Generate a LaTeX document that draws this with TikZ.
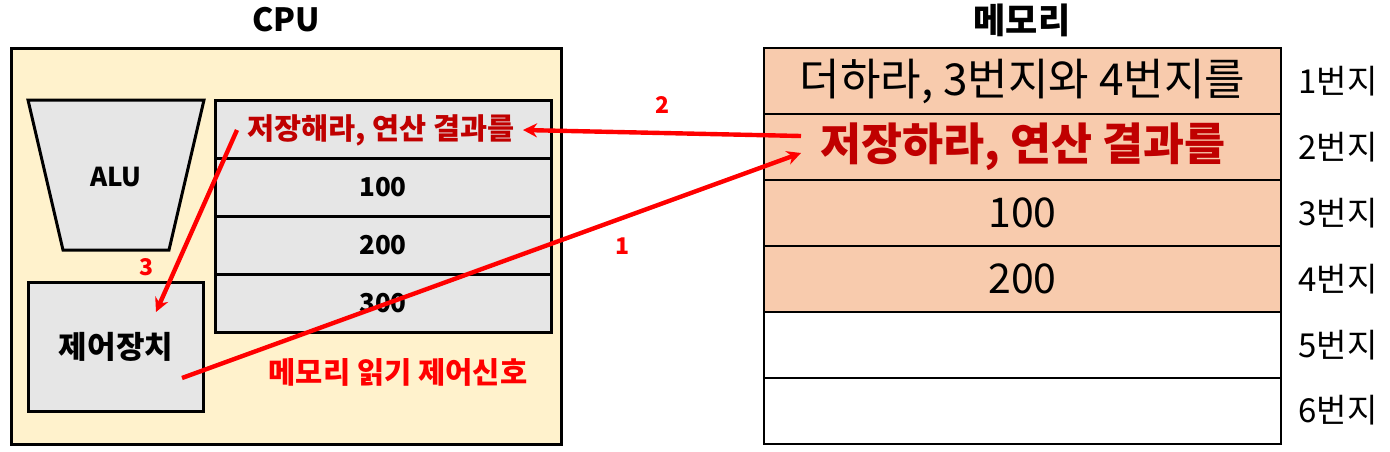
\documentclass[tikz,border=0pt]{standalone}
\usepackage{fontspec}
\setmainfont{Noto Sans CJK KR}
\usetikzlibrary{arrows.meta}
\definecolor{cpufill}{HTML}{FFF2CC}
\definecolor{regfill}{HTML}{E6E6E6}
\definecolor{memfill}{HTML}{F8CBAD}
\definecolor{darkred}{HTML}{C00000}
\definecolor{arrred}{HTML}{FF0000}
\tikzset{
  title/.style={font=\fontsize{16}{19}\selectfont\bfseries},
  cpubox/.style={draw=black,line width=1.5pt,fill=cpufill,minimum width=275pt,minimum height=198pt,inner sep=0pt},
  regbox/.style={draw=black,line width=1.5pt,fill=regfill,minimum width=168pt,minimum height=29pt,inner sep=0pt,font=\fontsize{13}{15}\selectfont\bfseries},
  ctrlbox/.style={draw=black,line width=1.5pt,fill=regfill,minimum width=87.5pt,minimum height=64.25pt,inner sep=0pt,font=\fontsize{15.5}{18}\selectfont\bfseries},
  membox/.style={draw=black,line width=1pt,minimum width=258.5pt,minimum height=33pt,inner sep=0pt},
  memtxt/.style={font=\fontsize{20.5}{24}\selectfont},
  addr/.style={font=\fontsize{16.5}{19}\selectfont},
  redarrow/.style={draw=arrred,line width=2.2pt,-{Stealth[length=7pt,width=7pt]}},
  numlbl/.style={text=arrred,font=\fontsize{11.5}{14}\selectfont\bfseries},
}
\begin{document}
\begin{tikzpicture}[x=0.5pt,y=-0.5pt]
\useasboundingbox (0,0) rectangle (1390,451);
% CPU
\node[title] (cputitle) at (286,20) {CPU};
\node[cpubox] (cpu) at (286,246) {};
\draw[line width=1.5pt,fill=regfill] (28,100) -- (204,100) -- (169,250) -- (63,250) -- cycle;
\node[font=\fontsize{13}{15}\selectfont\bfseries] (alu) at (116,177) {ALU};
\node[regbox] (r1) at (383,129.5) {};
\node[regbox] (r2) at (383,187.5) {100};
\node[regbox] (r3) at (383,245) {200};
\node[regbox] (r4) at (383,303.5) {300};
\node[text=darkred,font=\fontsize{14.7}{17}\selectfont\bfseries] (r1t) at (381,130) {저장해라, 연산 결과를};
\node[ctrlbox] (ctrl) at (116,347) {제어장치};
\node[text=arrred,font=\fontsize{14.8}{17}\selectfont\bfseries] (sig) at (398,372) {메모리 읽기 제어신호};
% Memory
\node[title,font=\fontsize{17.5}{20}\selectfont\bfseries] (memtitle) at (1022,20) {메모리};
\node[membox,fill=memfill,font=\fontsize{22}{26}\selectfont] (m1) at (1022.5,81) {더하라, 3번지와 4번지를};
\node[membox,fill=memfill] (m2) at (1022.5,147) {};
\node[text=darkred,font=\fontsize{22.3}{26}\selectfont\bfseries] (m2t) at (1023,147) {저장하라, 연산 결과를};
\node[membox,fill=memfill,memtxt] (m3) at (1022.5,213) {100};
\node[membox,fill=memfill,memtxt] (m4) at (1022.5,279) {200};
\node[membox,fill=white] (m5) at (1022.5,345) {};
\node[membox,fill=white] (m6) at (1022.5,410.5) {};
\node[addr] (a1) at (1338,81) {1번지};
\node[addr] (a2) at (1338,147) {2번지};
\node[addr] (a3) at (1338,213) {3번지};
\node[addr] (a4) at (1338,279) {4번지};
\node[addr] (a5) at (1338,345) {5번지};
\node[addr] (a6) at (1338,410.5) {6번지};
% arrows
\coordinate (s1) at (182,378);
\coordinate (e1) at (801,153);
\coordinate (s2) at (801,136);
\coordinate (e2) at (523,130);
\coordinate (s3) at (237,130);
\coordinate (e3) at (156,312);
\draw[redarrow] (s1) -- (e1);
\draw[redarrow] (s2) -- (e2);
\draw[redarrow] (s3) -- (e3);
\node[numlbl] (n1) at (622,246) {1};
\node[numlbl] (n2) at (662,105) {2};
\node[numlbl] (n3) at (147,267) {3};
\end{tikzpicture}
\end{document}
